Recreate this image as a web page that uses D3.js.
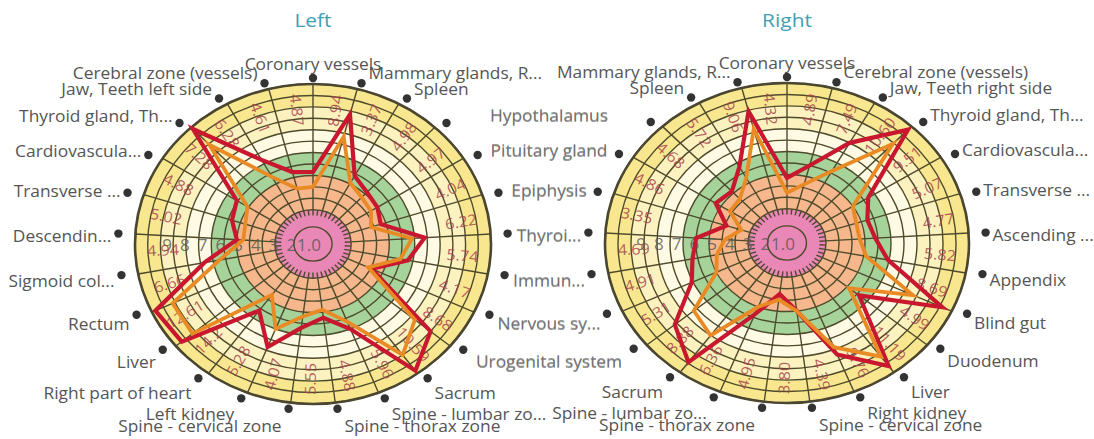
<!DOCTYPE html>
<meta charset="utf-8">
<style>
    body { margin: 0; background: #fff; }
    svg { font-family: "Open Sans", sans-serif; }
    .title { font-size: 19px; fill: #3f9fb4; text-anchor: middle; }
    .axis-name { font-size: 15.5px; fill: #555; dominant-baseline: central; }
    .axis-name.shared { fill-opacity: .62; }
    .dot { fill: #333; }
    .grid { fill: none; stroke: #4e4a2c; stroke-width: 1.4px; }
    .outer { fill: none; stroke: #4a4630; stroke-width: 2.6px; }
    .value { font-size: 15px; fill: #a8434c; fill-opacity: .85; text-anchor: middle; dominant-baseline: central; }
    .tick { font-size: 15.5px; fill: #555; fill-opacity: .8; text-anchor: middle; dominant-baseline: central; }
</style>
<body>
<svg id="chart" width="1094" height="439"></svg>
<script src="https://cdn.jsdelivr.net/npm/d3@7"></script>
<script>
    var leftAxes = ["Coronary vessels", "Mammary glands, R...", "Spleen", "Hypothalamus", "Pituitary gland",
        "Epiphysis", "Thyroi...", "Immun...", "Nervous sy...", "Urogenital system", "Sacrum",
        "Spine - lumbar zo...", "Spine - thorax zone", "Spine - cervical zone", "Left kidney",
        "Right part of heart", "Liver", "Rectum", "Sigmoid col...", "Descendin...", "Transverse ...",
        "Cardiovascula...", "Thyroid gland, Th...", "Jaw, Teeth left side", "Cerebral zone (vessels)"]
    var leftRed = [6.3, 11.7, 6.8, 6.2, 6.0, 5.6, 8.8, 7.6, 5.1, 12.0, 13.7, 8.0, 6.5, 7.4, 9.7,
        7.2, 13.4, 13.7, 8.7, 6.0, 6.7, 7.1, 13.8, 8.4, 6.5]
    var leftOrange = [5.0, 9.7, 6.1, 5.6, 5.4, 4.8, 7.8, 7.0, 4.8, 10.4, 12.0, 7.3, 5.8, 6.4, 8.0,
        5.5, 12.3, 12.2, 7.5, 5.5, 5.6, 6.1, 11.9, 6.7, 5.0]
    var leftValues = ["4.87", "8.94", "3.37", "4.98", "4.97", "4.04", "6.22", "5.74", "4.17", "8.68",
        "10.59", "5.96", "4.88", "5.55", "4.07", "5.28", "14.2", "12.61", "6.66", "4.94", "5.02",
        "4.88", "7.28", "6.28", "4.61"]

    var rightAxes = ["Coronary vessels", "Cerebral zone (vessels)", "Jaw, Teeth right side",
        "Thyroid gland, Th...", "Cardiovascula...", "Transverse ...", "Ascending ...", "Appendix",
        "Blind gut", "Duodenum", "Liver", "Right kidney", "Spine - cervical zone", "Spine - thorax zone",
        "Spine - lumbar zo...", "Sacrum", "Urogenital system", "Nervous sy...", "Immun...", "Thyroi...",
        "Epiphysis", "Pituitary gland", "Hypothalamus", "Spleen", "Mammary glands, R..."]
    var rightRed = [5.7, 7.0, 10.0, 13.6, 7.4, 6.5, 6.8, 7.9, 13.2, 7.2, 13.3, 10.5, 6.0, 4.5, 6.7,
        12.9, 11.2, 8.1, 7.4, 7.0, 4.9, 6.5, 6.2, 7.6, 11.9]
    var rightOrange = [4.4, 5.3, 7.2, 11.9, 6.0, 5.6, 5.6, 6.2, 10.7, 6.2, 12.3, 9.8, 6.0, 5.0, 6.0,
        10.0, 9.3, 6.0, 5.5, 4.8, 3.7, 5.2, 5.3, 6.5, 10.3]
    var rightValues = ["4.32", "4.89", "7.49", "10.60", "9.51", "5.07", "4.77", "5.82", "8.69", "4.99",
        "11.19", "9.76", "4.39", "3.80", "4.95", "6.36", "8.88", "5.31", "4.91", "4.69", "3.35", "4.86",
        "4.68", "5.72", "9.06"]

    var tickLabels = ["1.0", "2", "3", "4", "5", "6", "7", "8", "9"]
    // zones from outside in: [outer value, colour]
    var zones = [[14, "#f8e78f"], [12, "#fcf2bf"], [10, "#fefae4"], [8, "#a6d39a"], [6, "#f5b78b"], [3, "#e987b6"]]
    var rings = d3.range(3, 15)

    var svg = d3.select("#chart")
    var stretch = 1.12

    function radar(opt) {
        var n = opt.axes.length
        var g = svg.append("g")
        var r = d3.scaleLinear().domain([0, 14]).range([0, 1])
        var angle = d3.scaleLinear().domain([0, n]).range([0, 2 * Math.PI])
        function pt(i, v) {
            var a = angle(i)
            return [opt.cx + r(v) * opt.rx * Math.sin(a), opt.cy - r(v) * opt.ry * Math.cos(a)]
        }
        function shared(i) {
            var s = Math.sin(angle(i)), c = Math.cos(angle(i))
            return Math.abs(s) >= 0.05 && Math.sign(s) == opt.inner && Math.abs(c) < 0.75
        }

        g.append("text").attr("class", "title")
            .attr("transform", "translate(" + opt.cx + ",27) scale(1.1,1)").text(opt.title)

        g.selectAll(".zone").data(zones).enter().append("ellipse")
            .attr("cx", opt.cx).attr("cy", opt.cy)
            .attr("rx", d => r(d[0]) * opt.rx).attr("ry", d => r(d[0]) * opt.ry)
            .attr("fill", d => d[1])

        g.selectAll(".ring").data(rings).enter().append("ellipse")
            .attr("class", "grid")
            .attr("cx", opt.cx).attr("cy", opt.cy)
            .attr("rx", d => r(d) * opt.rx).attr("ry", d => r(d) * opt.ry)

        g.append("ellipse").attr("class", "grid")
            .attr("cx", opt.cx).attr("cy", opt.cy)
            .attr("rx", r(1.5) * opt.rx).attr("ry", r(1.5) * opt.ry)

        g.selectAll(".spoke").data(d3.range(n)).enter().append("line")
            .attr("class", "grid")
            .attr("x1", i => pt(i, 3)[0]).attr("y1", i => pt(i, 3)[1])
            .attr("x2", i => pt(i, 14)[0]).attr("y2", i => pt(i, 14)[1])

        g.selectAll(".ptick").data(d3.range(0, n, 0.5)).enter().append("line")
            .attr("class", "grid")
            .attr("x1", i => pt(i, 3)[0]).attr("y1", i => pt(i, 3)[1])
            .attr("x2", i => pt(i, 2.5)[0]).attr("y2", i => pt(i, 2.5)[1])

        g.append("ellipse").attr("class", "outer")
            .attr("cx", opt.cx).attr("cy", opt.cy).attr("rx", opt.rx).attr("ry", opt.ry)

        // scale labels along the left horizontal
        var tickX = d3.scaleLinear().domain([0, tickLabels.length - 1]).range([4, 146])
        g.selectAll(".tick").data(tickLabels).enter().append("text")
            .attr("class", "tick")
            .attr("transform", (d, i) => "translate(" + (opt.cx - tickX(i)) + "," + (opt.cy + 1) + ") scale(1.1,1)")
            .text(d => d)

        // value labels in the outer band
        g.selectAll(".value").data(opt.values).enter().append("text")
            .attr("class", "value")
            .attr("transform", function (d, i) {
                var p = pt(i - 0.42, 11.8)
                var deg = (angle(i - 0.42) * 180 / Math.PI + 360) % 360
                var rot = deg <= 180 ? deg - 90 : deg - 270
                return "translate(" + p[0] + "," + p[1] + ") rotate(" + rot + ") scale(1.08,1)"
            })
            .text(d => d)

        var line = d3.line().curve(d3.curveLinearClosed)
        g.append("path")
            .attr("d", line(opt.red.map((v, i) => pt(i, v))))
            .attr("fill", "none").attr("stroke", "#c8172f").attr("stroke-width", 4.2)
            .attr("stroke-linejoin", "miter")
        g.append("path")
            .attr("d", line(opt.orange.map((v, i) => pt(i, v))))
            .attr("fill", "none").attr("stroke", "#e98a25").attr("stroke-width", 3.8)
            .attr("stroke-linejoin", "miter")

        // axis names with dots; the inner-side middle names share the gap between the charts
        var names = g.selectAll(".name").data(opt.axes).enter().append("g")
        names.append("circle").attr("class", "dot").attr("r", 4.2)
            .attr("cx", (d, i) => opt.cx + (opt.rx + 17) * Math.sin(angle(i)))
            .attr("cy", (d, i) => opt.cy - (opt.ry + 6) * Math.cos(angle(i)))
        names.append("text")
            .attr("class", (d, i) => shared(i) ? "axis-name shared" : "axis-name")
            .attr("text-anchor", function (d, i) {
                var s = Math.sin(angle(i))
                if (Math.abs(s) < 0.05 || shared(i)) return "middle"
                return s > 0 ? "start" : "end"
            })
            .attr("transform", function (d, i) {
                var s = Math.sin(angle(i)), c = Math.cos(angle(i))
                var x = opt.cx + (opt.rx + 17) * s
                if (Math.abs(s) >= 0.05) x += Math.sign(s) * 7
                if (shared(i)) x = opt.midX
                var y = opt.cy - (opt.ry + 20) * c + 3 - (Math.abs(s) < 0.05 ? 3 : 0)
                return "translate(" + x + "," + y + ") scale(" + stretch + ",1)"
            })
            .text(d => d)
    }

    radar({title: "Left", cx: 313, cy: 244, rx: 178, ry: 160, inner: 1, midX: 549,
        axes: leftAxes, red: leftRed, orange: leftOrange, values: leftValues})
    radar({title: "Right", cx: 787, cy: 243, rx: 182, ry: 160, inner: -1, midX: 549,
        axes: rightAxes, red: rightRed, orange: rightOrange, values: rightValues})
</script>
</body>
